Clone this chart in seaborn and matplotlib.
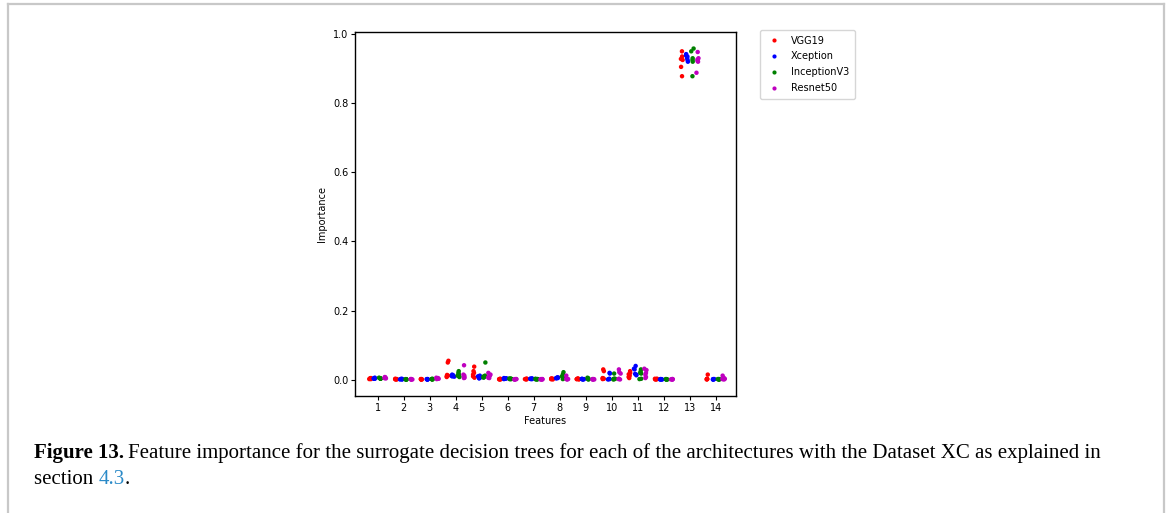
import numpy as np
import pandas as pd
import matplotlib
matplotlib.use("Agg")
import matplotlib.pyplot as plt
from matplotlib.lines import Line2D
import seaborn as sns

features = [str(i) for i in range(1, 15)]
architectures = ["VGG19", "Xception", "InceptionV3", "Resnet50"]
palette = {"VGG19": "r", "Xception": "b", "InceptionV3": "g", "Resnet50": "m"}

# Importance of each feature over six surrogate-tree runs
vgg19 = [
    [0.004, 0.003, 0.002, 0.003, 0.005, 0.002],
    [0.002, 0.001, 0.003, 0.002, 0.001, 0.002],
    [0.001, 0.002, 0.001, 0.002, 0.001, 0.002],
    [0.055, 0.050, 0.012, 0.010, 0.008, 0.014],
    [0.038, 0.025, 0.020, 0.015, 0.010, 0.006],
    [0.002, 0.001, 0.003, 0.002, 0.001, 0.002],
    [0.002, 0.003, 0.001, 0.002, 0.003, 0.002],
    [0.002, 0.003, 0.001, 0.004, 0.002, 0.003],
    [0.002, 0.003, 0.001, 0.002, 0.004, 0.002],
    [0.030, 0.025, 0.005, 0.002, 0.003, 0.004],
    [0.025, 0.020, 0.016, 0.012, 0.008, 0.005],
    [0.002, 0.003, 0.001, 0.002, 0.003, 0.001],
    [0.950, 0.935, 0.928, 0.925, 0.905, 0.878],
    [0.015, 0.002, 0.003, 0.001, 0.002, 0.002],
]
xception = [
    [0.004, 0.005, 0.003, 0.006, 0.004, 0.003],
    [0.002, 0.003, 0.001, 0.002, 0.002, 0.001],
    [0.001, 0.002, 0.001, 0.002, 0.002, 0.001],
    [0.015, 0.012, 0.010, 0.013, 0.011, 0.009],
    [0.012, 0.008, 0.006, 0.004, 0.010, 0.005],
    [0.004, 0.003, 0.005, 0.002, 0.003, 0.004],
    [0.003, 0.002, 0.004, 0.003, 0.002, 0.003],
    [0.006, 0.005, 0.007, 0.006, 0.005, 0.004],
    [0.002, 0.001, 0.002, 0.003, 0.001, 0.002],
    [0.020, 0.018, 0.003, 0.002, 0.002, 0.001],
    [0.040, 0.032, 0.030, 0.015, 0.013, 0.017],
    [0.001, 0.001, 0.002, 0.001, 0.001, 0.002],
    [0.942, 0.938, 0.935, 0.930, 0.925, 0.920],
    [0.002, 0.001, 0.002, 0.001, 0.002, 0.001],
]
inception_v3 = [
    [0.004, 0.005, 0.003, 0.004, 0.006, 0.003],
    [0.001, 0.001, 0.002, 0.001, 0.001, 0.001],
    [0.002, 0.001, 0.002, 0.003, 0.002, 0.001],
    [0.025, 0.020, 0.016, 0.012, 0.008, 0.010],
    [0.050, 0.012, 0.010, 0.008, 0.006, 0.009],
    [0.002, 0.003, 0.004, 0.002, 0.003, 0.002],
    [0.002, 0.001, 0.003, 0.002, 0.001, 0.002],
    [0.022, 0.016, 0.010, 0.004, 0.002, 0.006],
    [0.006, 0.004, 0.002, 0.003, 0.001, 0.002],
    [0.018, 0.003, 0.002, 0.001, 0.002, 0.003],
    [0.030, 0.024, 0.020, 0.003, 0.002, 0.018],
    [0.001, 0.002, 0.001, 0.001, 0.002, 0.001],
    [0.958, 0.950, 0.930, 0.925, 0.920, 0.878],
    [0.001, 0.002, 0.001, 0.002, 0.001, 0.002],
]
resnet50 = [
    [0.008, 0.006, 0.005, 0.004, 0.007, 0.005],
    [0.002, 0.001, 0.002, 0.001, 0.001, 0.002],
    [0.006, 0.004, 0.003, 0.002, 0.005, 0.003],
    [0.042, 0.015, 0.012, 0.008, 0.005, 0.006],
    [0.020, 0.015, 0.012, 0.008, 0.005, 0.006],
    [0.002, 0.001, 0.002, 0.001, 0.002, 0.001],
    [0.002, 0.001, 0.002, 0.001, 0.002, 0.001],
    [0.012, 0.003, 0.002, 0.001, 0.002, 0.002],
    [0.002, 0.001, 0.002, 0.001, 0.002, 0.001],
    [0.030, 0.022, 0.018, 0.003, 0.002, 0.001],
    [0.032, 0.028, 0.020, 0.015, 0.008, 0.005],
    [0.002, 0.001, 0.002, 0.001, 0.002, 0.001],
    [0.948, 0.930, 0.926, 0.922, 0.920, 0.888],
    [0.012, 0.006, 0.003, 0.002, 0.002, 0.001],
]

rows = []
for arch, table in zip(architectures, [vgg19, xception, inception_v3, resnet50]):
    for feat, runs in zip(features, table):
        for v in runs:
            rows.append({"Features": feat, "Importance": v, "Model": arch})
df = pd.DataFrame(rows)

plt.rcParams["font.family"] = ["DejaVu Sans"]
fig = plt.figure(figsize=(11.67, 5.13), dpi=100)
ax = fig.add_axes([0.3042, 0.2281, 0.3265, 0.7095])

np.random.seed(3)
sns.stripplot(data=df, x="Features", y="Importance", hue="Model",
              order=features, hue_order=architectures, palette=palette,
              dodge=True, jitter=0.2, size=3.2, linewidth=0,
              ax=ax, legend=False)

ax.set_xlim(-0.87, 13.78)
ax.set_yticks([0.0, 0.2, 0.4, 0.6, 0.8, 1.0])
ax.set_yticklabels(["0.0", "0.2", "0.4", "0.6", "0.8", "1.0"])
ax.tick_params(labelsize=7, length=3, width=0.8, pad=1.8)
ax.set_xlabel("Features", fontsize=7, labelpad=2.5)
ax.set_ylabel("Importance", fontsize=7, labelpad=4)
for s in ax.spines.values():
    s.set_linewidth(1.0)

handles = [Line2D([], [], linestyle="none", marker="o", markersize=3,
                  markerfacecolor=palette[a], markeredgewidth=0, label=a)
           for a in architectures]
ax.legend(handles=handles, loc="upper left", bbox_to_anchor=(1.063, 1.006),
          borderaxespad=0, fontsize=7, handletextpad=1.0, labelspacing=0.6,
          borderpad=0.6, handlelength=1.6)

# Page frame around figure and caption
frame_color = "#c8c8c8"
fig.add_artist(Line2D([8 / 1167, 8 / 1167], [0, 1 - 4 / 513], color=frame_color,
                      lw=1.6, transform=fig.transFigure))
fig.add_artist(Line2D([8 / 1167, 1164 / 1167], [1 - 4 / 513, 1 - 4 / 513],
                      color=frame_color, lw=1.6, transform=fig.transFigure))
fig.add_artist(Line2D([1164 / 1167, 1164 / 1167], [0, 1 - 4 / 513], color=frame_color,
                      lw=1.6, transform=fig.transFigure))

# Caption
cap_font = ["Liberation Serif", "DejaVu Serif"]
cap_size = 15.0
x0 = 34 / 1167
y1 = 1 - 458 / 513
y2 = 1 - 484 / 513
fig.canvas.draw()
renderer = fig.canvas.get_renderer()

t1 = fig.text(x0, y1, "Figure 13.", fontsize=cap_size, fontweight="bold",
              family=cap_font, va="baseline", ha="left")
bb = t1.get_window_extent(renderer)
fig.text(bb.x1 / fig.bbox.width + 4 / 1167, y1,
         "Feature importance for the surrogate decision trees for each of the "
         "architectures with the Dataset XC as explained in",
         fontsize=cap_size, family=cap_font, va="baseline", ha="left")

t2 = fig.text(x0, y2, "section ", fontsize=cap_size, family=cap_font,
              va="baseline", ha="left")
bb2 = t2.get_window_extent(renderer)
t3 = fig.text(bb2.x1 / fig.bbox.width, y2, "4.3", fontsize=cap_size,
              family=cap_font, va="baseline", ha="left", color="#2a8ac8")
bb3 = t3.get_window_extent(renderer)
fig.text(bb3.x1 / fig.bbox.width, y2, ".", fontsize=cap_size, family=cap_font,
         va="baseline", ha="left")

fig.savefig("out.png", dpi=100)
